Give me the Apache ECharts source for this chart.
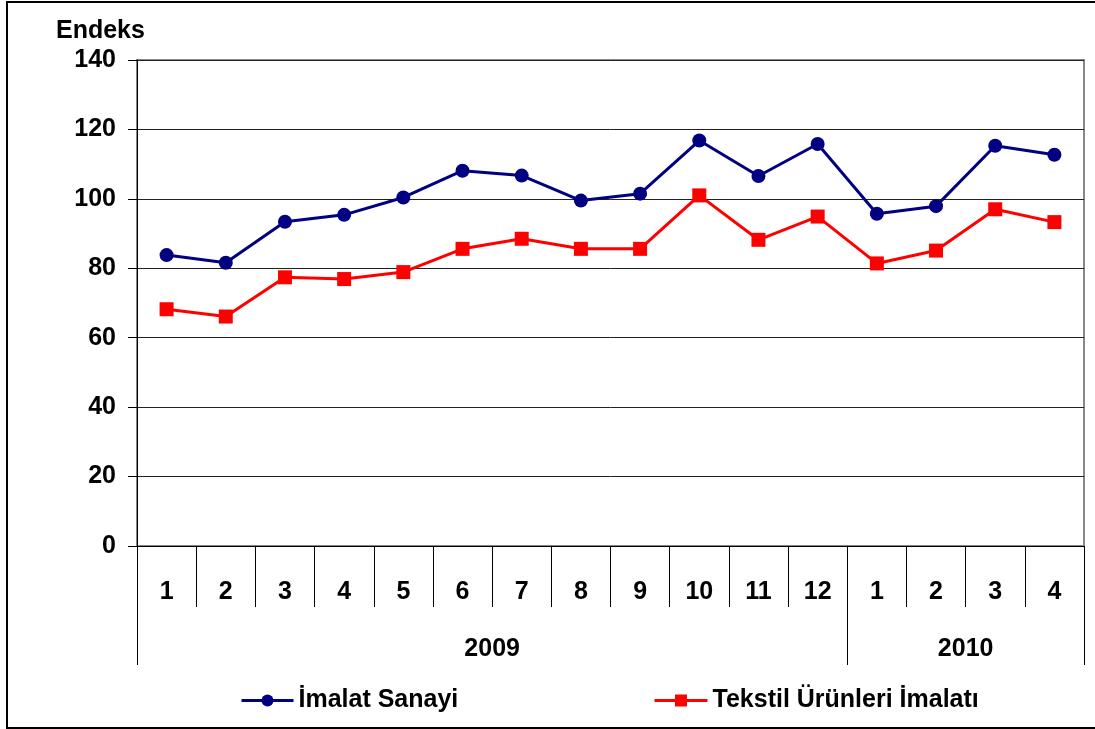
<!DOCTYPE html>
<html>
<head>
<meta charset="utf-8">
<script src="https://cdn.jsdelivr.net/npm/echarts@6/dist/echarts.min.js"></script>
<style>
  html, body { margin: 0; padding: 0; background: #fff; }
  #ec { width: 1095px; height: 729px; }
</style>
</head>
<body>
<div id="ec"></div>
<script>
// months along the axis (2009: 1-12, 2010: 1-4)
var months = ['1', '2', '3', '4', '5', '6', '7', '8', '9', '10', '11', '12', '1', '2', '3', '4']
var imalat = [83.8, 81.6, 93.4, 95.4, 100.4, 108.1, 106.7, 99.5, 101.5, 116.8, 106.6, 115.8, 95.7, 97.9, 115.3, 112.7]
var tekstil = [68.2, 66.1, 77.4, 76.9, 78.9, 85.6, 88.5, 85.6, 85.6, 101.0, 88.2, 94.9, 81.4, 85.1, 97.0, 93.3]
var yTicks = [0, 20, 40, 60, 80, 100, 120, 140]
// year groups: label position on a 0..16 scale and separator positions
var years = { 6: '2009', 14: '2010' }
var yearBounds = [0, 12, 16]

var font = '"Liberation Sans", Arial, sans-serif'
var fs = 25

var chart = echarts.init(document.getElementById('ec'))
chart.setOption({
  animation: false,
  textStyle: { fontFamily: font },
  title: {
    text: 'Endeks',
    left: 51,
    top: 14,
    textStyle: { fontSize: fs, fontWeight: 'bold', color: '#000', fontFamily: font }
  },
  graphic: [{
    type: 'rect',
    shape: { x: 7, y: 2, width: 1100, height: 726 },
    style: { fill: 'none', stroke: '#000', lineWidth: 2 },
    silent: true
  }],
  legend: [
    {
      data: ['İmalat Sanayi'],
      left: 235,
      top: 683,
      itemWidth: 52,
      itemHeight: 15,
      itemGap: 4,
      lineStyle: { width: 3 },
      textStyle: { fontSize: fs, fontWeight: 'bold', color: '#000', fontFamily: font }
    },
    {
      data: ['Tekstil Ürünleri İmalatı'],
      left: 648,
      top: 683,
      itemWidth: 53,
      itemHeight: 15,
      lineStyle: { width: 3 },
      textStyle: { fontSize: fs, fontWeight: 'bold', color: '#000', fontFamily: font }
    }
  ],
  grid: {
    left: 137,
    right: 11,
    top: 60,
    bottom: 183,
    show: true,
    borderColor: '#888',
    borderWidth: 2
  },
  xAxis: [
    {
      type: 'category',
      data: months,
      boundaryGap: true,
      axisLine: { lineStyle: { color: '#000', width: 1 } },
      axisTick: { show: true, interval: 0, length: 61, lineStyle: { color: '#000' } },
      axisLabel: { interval: 0, margin: 34, fontSize: fs, fontWeight: 'bold', color: '#000' }
    },
    {
      type: 'value',
      min: 0,
      max: 16,
      position: 'bottom',
      axisLine: { show: false },
      splitLine: { show: false },
      axisTick: { show: true, length: 119, customValues: yearBounds, lineStyle: { color: '#000' } },
      axisLabel: {
        customValues: [6, 14],
        margin: 91,
        fontSize: fs,
        fontWeight: 'bold',
        color: '#000',
        formatter: function (v) { return years[v] || '' }
      }
    }
  ],
  yAxis: {
    type: 'value',
    min: yTicks[0],
    max: yTicks[yTicks.length - 1],
    interval: 20,
    axisLine: { show: true, lineStyle: { color: '#000' } },
    axisTick: { show: true, length: 9, lineStyle: { color: '#000' } },
    axisLabel: { margin: 21, fontSize: fs, fontWeight: 'bold', color: '#000' },
    splitLine: { show: true, lineStyle: { color: '#222', width: 1 } }
  },
  series: [
    {
      name: 'İmalat Sanayi',
      type: 'line',
      data: imalat,
      symbol: 'circle',
      symbolSize: 14,
      color: '#000080',
      lineStyle: { width: 3, color: '#000080' },
      itemStyle: { color: '#000080' }
    },
    {
      name: 'Tekstil Ürünleri İmalatı',
      type: 'line',
      data: tekstil,
      symbol: 'rect',
      symbolSize: 14,
      color: '#ff0000',
      lineStyle: { width: 3, color: '#ff0000' },
      itemStyle: { color: '#ff0000' }
    }
  ]
})
window.addEventListener('resize', function () { chart.resize() })
</script>
</body>
</html>
